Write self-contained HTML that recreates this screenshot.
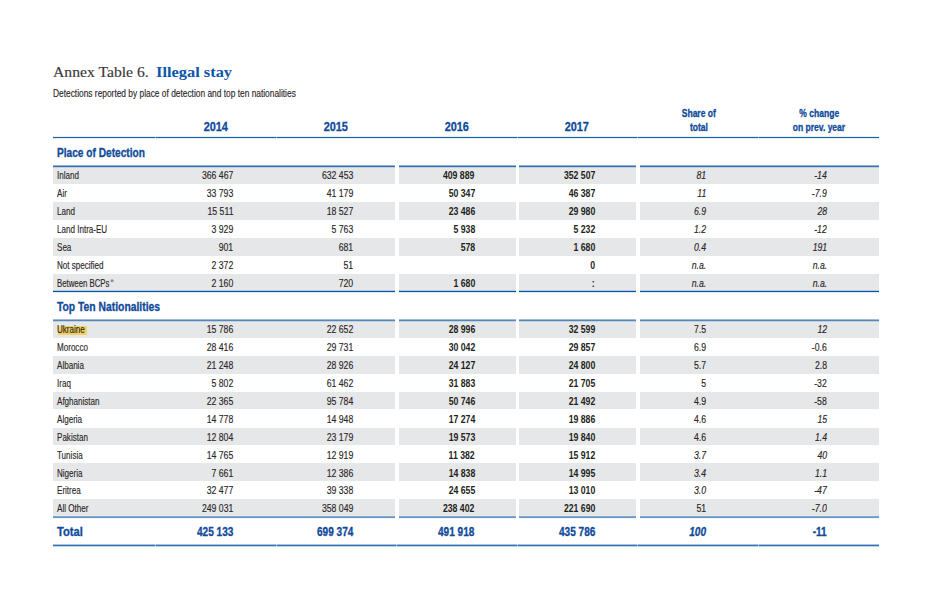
<!DOCTYPE html>
<html><head><meta charset="utf-8"><style>
html,body{margin:0;padding:0;background:#fff;width:925px;height:589px;overflow:hidden;position:relative}
.t{position:absolute;white-space:nowrap;z-index:3}
.t>span{display:inline-block;-webkit-text-stroke:0.15px currentColor}
.b>span{-webkit-text-stroke:0}
.bb>span{-webkit-text-stroke:0.3px currentColor}
.r{position:absolute}
sup{font-size:6px;vertical-align:top;position:relative;top:-1px}
.hl{background:#f2d66b}
</style></head><body>
<div class="t" style="left:52.90px;top:64.74px;font:normal normal 14.4px/14.4px 'Liberation Serif',serif;color:#3b3838"><span style="transform:scaleX(1.09);transform-origin:left">Annex Table 6.</span></div>
<div class="t b" style="left:156.20px;top:64.74px;font:normal bold 14.4px/14.4px 'Liberation Serif',serif;color:#0d55ac"><span style="transform:scaleX(1.139);transform-origin:left">Illegal stay</span></div>
<div class="t" style="left:52.50px;top:88.26px;font:normal normal 10.8px/10.8px 'Liberation Sans',sans-serif;color:#2a2627"><span style="transform:scaleX(0.775);transform-origin:left">Detections reported by place of detection and top ten nationalities</span></div>
<div class="t bb" style="left:-84.50px;width:600px;text-align:center;top:119.64px;font:normal bold 13.3px/13.3px 'Liberation Sans',sans-serif;color:#0f4a9a"><span style="transform:scaleX(0.82);transform-origin:center">2014</span></div>
<div class="t bb" style="left:36.00px;width:600px;text-align:center;top:119.64px;font:normal bold 13.3px/13.3px 'Liberation Sans',sans-serif;color:#0f4a9a"><span style="transform:scaleX(0.82);transform-origin:center">2015</span></div>
<div class="t bb" style="left:156.50px;width:600px;text-align:center;top:119.64px;font:normal bold 13.3px/13.3px 'Liberation Sans',sans-serif;color:#0f4a9a"><span style="transform:scaleX(0.82);transform-origin:center">2016</span></div>
<div class="t bb" style="left:277.00px;width:600px;text-align:center;top:119.64px;font:normal bold 13.3px/13.3px 'Liberation Sans',sans-serif;color:#0f4a9a"><span style="transform:scaleX(0.82);transform-origin:center">2017</span></div>
<div class="t bb" style="left:399.20px;width:600px;text-align:center;top:108.60px;font:normal bold 10.4px/10.4px 'Liberation Sans',sans-serif;color:#0f4a9a"><span style="transform:scaleX(0.82);transform-origin:center">Share of</span></div>
<div class="t bb" style="left:398.90px;width:600px;text-align:center;top:122.60px;font:normal bold 10.4px/10.4px 'Liberation Sans',sans-serif;color:#0f4a9a"><span style="transform:scaleX(0.82);transform-origin:center">total</span></div>
<div class="t bb" style="left:519.00px;width:600px;text-align:center;top:108.60px;font:normal bold 10.4px/10.4px 'Liberation Sans',sans-serif;color:#0f4a9a"><span style="transform:scaleX(0.82);transform-origin:center">% change</span></div>
<div class="t bb" style="left:519.00px;width:600px;text-align:center;top:122.60px;font:normal bold 10.4px/10.4px 'Liberation Sans',sans-serif;color:#0f4a9a"><span style="transform:scaleX(0.82);transform-origin:center">on prev. year</span></div>
<div class="r" style="z-index:2;left:52.50px;top:136px;width:826.50px;height:1px;background:rgba(10,86,163,0.1)"></div>
<div class="r" style="z-index:2;left:52.50px;top:137px;width:826.50px;height:1px;background:rgba(10,86,163,0.92)"></div>
<div class="r" style="z-index:2;left:52.50px;top:138px;width:826.50px;height:1px;background:rgba(10,86,163,0.12)"></div>
<div class="r" style="z-index:2;left:155px;top:136px;width:1px;height:3px;background:rgba(255,255,255,0.45)"></div>
<div class="r" style="z-index:2;left:276px;top:136px;width:1px;height:3px;background:rgba(255,255,255,0.45)"></div>
<div class="r" style="z-index:2;left:517px;top:136px;width:1px;height:3px;background:rgba(255,255,255,0.45)"></div>
<div class="r" style="z-index:2;left:637px;top:136px;width:1px;height:3px;background:rgba(255,255,255,0.45)"></div>
<div class="r" style="z-index:2;left:758px;top:136px;width:1px;height:3px;background:rgba(255,255,255,0.45)"></div>
<div class="t bb" style="left:57.00px;top:146.74px;font:normal bold 12px/12px 'Liberation Sans',sans-serif;color:#0f4a9a"><span style="transform:scaleX(0.845);transform-origin:left">Place of Detection</span></div>
<div class="r" style="z-index:2;left:52.50px;top:165px;width:342.50px;height:1px;background:rgba(10,86,163,0.45)"></div>
<div class="r" style="z-index:2;left:399.00px;top:165px;width:117.00px;height:1px;background:rgba(10,86,163,0.45)"></div>
<div class="r" style="z-index:2;left:519.30px;top:165px;width:116.90px;height:1px;background:rgba(10,86,163,0.45)"></div>
<div class="r" style="z-index:2;left:639.80px;top:165px;width:239.20px;height:1px;background:rgba(10,86,163,0.45)"></div>
<div class="r" style="z-index:2;left:52.50px;top:166px;width:342.50px;height:1px;background:rgba(10,86,163,0.82)"></div>
<div class="r" style="z-index:2;left:399.00px;top:166px;width:117.00px;height:1px;background:rgba(10,86,163,0.82)"></div>
<div class="r" style="z-index:2;left:519.30px;top:166px;width:116.90px;height:1px;background:rgba(10,86,163,0.82)"></div>
<div class="r" style="z-index:2;left:639.80px;top:166px;width:239.20px;height:1px;background:rgba(10,86,163,0.82)"></div>
<div class="r" style="z-index:2;left:52.50px;top:167px;width:342.50px;height:1px;background:rgba(10,86,163,0.15)"></div>
<div class="r" style="z-index:2;left:399.00px;top:167px;width:117.00px;height:1px;background:rgba(10,86,163,0.15)"></div>
<div class="r" style="z-index:2;left:519.30px;top:167px;width:116.90px;height:1px;background:rgba(10,86,163,0.15)"></div>
<div class="r" style="z-index:2;left:639.80px;top:167px;width:239.20px;height:1px;background:rgba(10,86,163,0.15)"></div>
<div class="r" style="left:52.50px;top:166.00px;width:342.50px;height:18.00px;background:#e6e7e8"></div>
<div class="r" style="left:399.00px;top:166.00px;width:117.00px;height:18.00px;background:#e6e7e8"></div>
<div class="r" style="left:519.30px;top:166.00px;width:116.90px;height:18.00px;background:#e6e7e8"></div>
<div class="r" style="left:639.80px;top:166.00px;width:239.20px;height:18.00px;background:#e6e7e8"></div>
<div class="t" style="left:56.80px;top:169.77px;font:normal normal 10.9px/10.9px 'Liberation Sans',sans-serif;color:#2a2627"><span style="transform:scaleX(0.74);transform-origin:left">Inland</span></div>
<div class="t" style="right:691.80px;top:169.77px;font:normal normal 10.9px/10.9px 'Liberation Sans',sans-serif;color:#2a2627"><span style="transform:scaleX(0.8);transform-origin:right">366 467</span></div>
<div class="t" style="right:571.50px;top:169.77px;font:normal normal 10.9px/10.9px 'Liberation Sans',sans-serif;color:#2a2627"><span style="transform:scaleX(0.8);transform-origin:right">632 453</span></div>
<div class="t b" style="right:450.20px;top:169.77px;font:normal bold 10.9px/10.9px 'Liberation Sans',sans-serif;color:#231f20"><span style="transform:scaleX(0.8);transform-origin:right">409 889</span></div>
<div class="t b" style="right:330.00px;top:169.77px;font:normal bold 10.9px/10.9px 'Liberation Sans',sans-serif;color:#231f20"><span style="transform:scaleX(0.8);transform-origin:right">352 507</span></div>
<div class="t" style="right:219.00px;top:169.77px;font:italic normal 10.9px/10.9px 'Liberation Sans',sans-serif;color:#2a2627"><span style="transform:scaleX(0.8);transform-origin:right">81</span></div>
<div class="t" style="right:98.00px;top:169.77px;font:italic normal 10.9px/10.9px 'Liberation Sans',sans-serif;color:#2a2627"><span style="transform:scaleX(0.8);transform-origin:right">-14</span></div>
<div class="t" style="left:56.80px;top:187.77px;font:normal normal 10.9px/10.9px 'Liberation Sans',sans-serif;color:#2a2627"><span style="transform:scaleX(0.74);transform-origin:left">Air</span></div>
<div class="t" style="right:691.80px;top:187.77px;font:normal normal 10.9px/10.9px 'Liberation Sans',sans-serif;color:#2a2627"><span style="transform:scaleX(0.8);transform-origin:right">33 793</span></div>
<div class="t" style="right:571.50px;top:187.77px;font:normal normal 10.9px/10.9px 'Liberation Sans',sans-serif;color:#2a2627"><span style="transform:scaleX(0.8);transform-origin:right">41 179</span></div>
<div class="t b" style="right:450.20px;top:187.77px;font:normal bold 10.9px/10.9px 'Liberation Sans',sans-serif;color:#231f20"><span style="transform:scaleX(0.8);transform-origin:right">50 347</span></div>
<div class="t b" style="right:330.00px;top:187.77px;font:normal bold 10.9px/10.9px 'Liberation Sans',sans-serif;color:#231f20"><span style="transform:scaleX(0.8);transform-origin:right">46 387</span></div>
<div class="t" style="right:219.00px;top:187.77px;font:italic normal 10.9px/10.9px 'Liberation Sans',sans-serif;color:#2a2627"><span style="transform:scaleX(0.8);transform-origin:right">11</span></div>
<div class="t" style="right:98.00px;top:187.77px;font:italic normal 10.9px/10.9px 'Liberation Sans',sans-serif;color:#2a2627"><span style="transform:scaleX(0.8);transform-origin:right">-7.9</span></div>
<div class="r" style="left:52.50px;top:202.00px;width:342.50px;height:18.00px;background:#e6e7e8"></div>
<div class="r" style="left:399.00px;top:202.00px;width:117.00px;height:18.00px;background:#e6e7e8"></div>
<div class="r" style="left:519.30px;top:202.00px;width:116.90px;height:18.00px;background:#e6e7e8"></div>
<div class="r" style="left:639.80px;top:202.00px;width:239.20px;height:18.00px;background:#e6e7e8"></div>
<div class="t" style="left:56.80px;top:205.77px;font:normal normal 10.9px/10.9px 'Liberation Sans',sans-serif;color:#2a2627"><span style="transform:scaleX(0.74);transform-origin:left">Land</span></div>
<div class="t" style="right:691.80px;top:205.77px;font:normal normal 10.9px/10.9px 'Liberation Sans',sans-serif;color:#2a2627"><span style="transform:scaleX(0.8);transform-origin:right">15 511</span></div>
<div class="t" style="right:571.50px;top:205.77px;font:normal normal 10.9px/10.9px 'Liberation Sans',sans-serif;color:#2a2627"><span style="transform:scaleX(0.8);transform-origin:right">18 527</span></div>
<div class="t b" style="right:450.20px;top:205.77px;font:normal bold 10.9px/10.9px 'Liberation Sans',sans-serif;color:#231f20"><span style="transform:scaleX(0.8);transform-origin:right">23 486</span></div>
<div class="t b" style="right:330.00px;top:205.77px;font:normal bold 10.9px/10.9px 'Liberation Sans',sans-serif;color:#231f20"><span style="transform:scaleX(0.8);transform-origin:right">29 980</span></div>
<div class="t" style="right:219.00px;top:205.77px;font:italic normal 10.9px/10.9px 'Liberation Sans',sans-serif;color:#2a2627"><span style="transform:scaleX(0.8);transform-origin:right">6.9</span></div>
<div class="t" style="right:98.00px;top:205.77px;font:italic normal 10.9px/10.9px 'Liberation Sans',sans-serif;color:#2a2627"><span style="transform:scaleX(0.8);transform-origin:right">28</span></div>
<div class="t" style="left:56.80px;top:223.77px;font:normal normal 10.9px/10.9px 'Liberation Sans',sans-serif;color:#2a2627"><span style="transform:scaleX(0.74);transform-origin:left">Land Intra-EU</span></div>
<div class="t" style="right:691.80px;top:223.77px;font:normal normal 10.9px/10.9px 'Liberation Sans',sans-serif;color:#2a2627"><span style="transform:scaleX(0.8);transform-origin:right">3 929</span></div>
<div class="t" style="right:571.50px;top:223.77px;font:normal normal 10.9px/10.9px 'Liberation Sans',sans-serif;color:#2a2627"><span style="transform:scaleX(0.8);transform-origin:right">5 763</span></div>
<div class="t b" style="right:450.20px;top:223.77px;font:normal bold 10.9px/10.9px 'Liberation Sans',sans-serif;color:#231f20"><span style="transform:scaleX(0.8);transform-origin:right">5 938</span></div>
<div class="t b" style="right:330.00px;top:223.77px;font:normal bold 10.9px/10.9px 'Liberation Sans',sans-serif;color:#231f20"><span style="transform:scaleX(0.8);transform-origin:right">5 232</span></div>
<div class="t" style="right:219.00px;top:223.77px;font:italic normal 10.9px/10.9px 'Liberation Sans',sans-serif;color:#2a2627"><span style="transform:scaleX(0.8);transform-origin:right">1.2</span></div>
<div class="t" style="right:98.00px;top:223.77px;font:italic normal 10.9px/10.9px 'Liberation Sans',sans-serif;color:#2a2627"><span style="transform:scaleX(0.8);transform-origin:right">-12</span></div>
<div class="r" style="left:52.50px;top:238.00px;width:342.50px;height:18.00px;background:#e6e7e8"></div>
<div class="r" style="left:399.00px;top:238.00px;width:117.00px;height:18.00px;background:#e6e7e8"></div>
<div class="r" style="left:519.30px;top:238.00px;width:116.90px;height:18.00px;background:#e6e7e8"></div>
<div class="r" style="left:639.80px;top:238.00px;width:239.20px;height:18.00px;background:#e6e7e8"></div>
<div class="t" style="left:56.80px;top:241.77px;font:normal normal 10.9px/10.9px 'Liberation Sans',sans-serif;color:#2a2627"><span style="transform:scaleX(0.74);transform-origin:left">Sea</span></div>
<div class="t" style="right:691.80px;top:241.77px;font:normal normal 10.9px/10.9px 'Liberation Sans',sans-serif;color:#2a2627"><span style="transform:scaleX(0.8);transform-origin:right">901</span></div>
<div class="t" style="right:571.50px;top:241.77px;font:normal normal 10.9px/10.9px 'Liberation Sans',sans-serif;color:#2a2627"><span style="transform:scaleX(0.8);transform-origin:right">681</span></div>
<div class="t b" style="right:450.20px;top:241.77px;font:normal bold 10.9px/10.9px 'Liberation Sans',sans-serif;color:#231f20"><span style="transform:scaleX(0.8);transform-origin:right">578</span></div>
<div class="t b" style="right:330.00px;top:241.77px;font:normal bold 10.9px/10.9px 'Liberation Sans',sans-serif;color:#231f20"><span style="transform:scaleX(0.8);transform-origin:right">1 680</span></div>
<div class="t" style="right:219.00px;top:241.77px;font:italic normal 10.9px/10.9px 'Liberation Sans',sans-serif;color:#2a2627"><span style="transform:scaleX(0.8);transform-origin:right">0.4</span></div>
<div class="t" style="right:98.00px;top:241.77px;font:italic normal 10.9px/10.9px 'Liberation Sans',sans-serif;color:#2a2627"><span style="transform:scaleX(0.8);transform-origin:right">191</span></div>
<div class="t" style="left:56.80px;top:259.77px;font:normal normal 10.9px/10.9px 'Liberation Sans',sans-serif;color:#2a2627"><span style="transform:scaleX(0.74);transform-origin:left">Not specified</span></div>
<div class="t" style="right:691.80px;top:259.77px;font:normal normal 10.9px/10.9px 'Liberation Sans',sans-serif;color:#2a2627"><span style="transform:scaleX(0.8);transform-origin:right">2 372</span></div>
<div class="t" style="right:571.50px;top:259.77px;font:normal normal 10.9px/10.9px 'Liberation Sans',sans-serif;color:#2a2627"><span style="transform:scaleX(0.8);transform-origin:right">51</span></div>
<div class="t b" style="right:450.20px;top:259.77px;font:normal bold 10.9px/10.9px 'Liberation Sans',sans-serif;color:#231f20"><span style="transform:scaleX(0.8);transform-origin:right"></span></div>
<div class="t b" style="right:330.00px;top:259.77px;font:normal bold 10.9px/10.9px 'Liberation Sans',sans-serif;color:#231f20"><span style="transform:scaleX(0.8);transform-origin:right">0</span></div>
<div class="t" style="right:219.00px;top:259.77px;font:italic normal 10.9px/10.9px 'Liberation Sans',sans-serif;color:#2a2627"><span style="transform:scaleX(0.8);transform-origin:right">n.a.</span></div>
<div class="t" style="right:98.00px;top:259.77px;font:italic normal 10.9px/10.9px 'Liberation Sans',sans-serif;color:#2a2627"><span style="transform:scaleX(0.8);transform-origin:right">n.a.</span></div>
<div class="r" style="left:52.50px;top:274.00px;width:342.50px;height:18.00px;background:#e6e7e8"></div>
<div class="r" style="left:399.00px;top:274.00px;width:117.00px;height:18.00px;background:#e6e7e8"></div>
<div class="r" style="left:519.30px;top:274.00px;width:116.90px;height:18.00px;background:#e6e7e8"></div>
<div class="r" style="left:639.80px;top:274.00px;width:239.20px;height:18.00px;background:#e6e7e8"></div>
<div class="t" style="left:56.80px;top:277.77px;font:normal normal 10.9px/10.9px 'Liberation Sans',sans-serif;color:#2a2627"><span style="transform:scaleX(0.715);transform-origin:left">Between BCPs</span></div>
<div class="t" style="left:110.30px;top:277.78px;font:normal normal 9px/9px 'Liberation Sans',sans-serif;color:#6a7a98"><span style="transform:scaleX(1.0);transform-origin:left">*</span></div>
<div class="t" style="right:691.80px;top:277.77px;font:normal normal 10.9px/10.9px 'Liberation Sans',sans-serif;color:#2a2627"><span style="transform:scaleX(0.8);transform-origin:right">2 160</span></div>
<div class="t" style="right:571.50px;top:277.77px;font:normal normal 10.9px/10.9px 'Liberation Sans',sans-serif;color:#2a2627"><span style="transform:scaleX(0.8);transform-origin:right">720</span></div>
<div class="t b" style="right:450.20px;top:277.77px;font:normal bold 10.9px/10.9px 'Liberation Sans',sans-serif;color:#231f20"><span style="transform:scaleX(0.8);transform-origin:right">1 680</span></div>
<div class="t b" style="right:330.00px;top:277.77px;font:normal bold 10.9px/10.9px 'Liberation Sans',sans-serif;color:#231f20"><span style="transform:scaleX(0.8);transform-origin:right">:</span></div>
<div class="t" style="right:219.00px;top:277.77px;font:italic normal 10.9px/10.9px 'Liberation Sans',sans-serif;color:#2a2627"><span style="transform:scaleX(0.8);transform-origin:right">n.a.</span></div>
<div class="t" style="right:98.00px;top:277.77px;font:italic normal 10.9px/10.9px 'Liberation Sans',sans-serif;color:#2a2627"><span style="transform:scaleX(0.8);transform-origin:right">n.a.</span></div>
<div class="r" style="z-index:2;left:52.50px;top:290px;width:342.50px;height:1px;background:rgba(10,86,163,0.2)"></div>
<div class="r" style="z-index:2;left:399.00px;top:290px;width:117.00px;height:1px;background:rgba(10,86,163,0.2)"></div>
<div class="r" style="z-index:2;left:519.30px;top:290px;width:116.90px;height:1px;background:rgba(10,86,163,0.2)"></div>
<div class="r" style="z-index:2;left:639.80px;top:290px;width:239.20px;height:1px;background:rgba(10,86,163,0.2)"></div>
<div class="r" style="z-index:2;left:52.50px;top:291px;width:342.50px;height:1px;background:rgba(10,86,163,1.0)"></div>
<div class="r" style="z-index:2;left:399.00px;top:291px;width:117.00px;height:1px;background:rgba(10,86,163,1.0)"></div>
<div class="r" style="z-index:2;left:519.30px;top:291px;width:116.90px;height:1px;background:rgba(10,86,163,1.0)"></div>
<div class="r" style="z-index:2;left:639.80px;top:291px;width:239.20px;height:1px;background:rgba(10,86,163,1.0)"></div>
<div class="r" style="z-index:2;left:52.50px;top:292px;width:342.50px;height:1px;background:rgba(10,86,163,0.15)"></div>
<div class="r" style="z-index:2;left:399.00px;top:292px;width:117.00px;height:1px;background:rgba(10,86,163,0.15)"></div>
<div class="r" style="z-index:2;left:519.30px;top:292px;width:116.90px;height:1px;background:rgba(10,86,163,0.15)"></div>
<div class="r" style="z-index:2;left:639.80px;top:292px;width:239.20px;height:1px;background:rgba(10,86,163,0.15)"></div>
<div class="t bb" style="left:57.00px;top:300.64px;font:normal bold 12px/12px 'Liberation Sans',sans-serif;color:#0f4a9a"><span style="transform:scaleX(0.862);transform-origin:left">Top Ten Nationalities</span></div>
<div class="r" style="z-index:2;left:52.50px;top:319px;width:342.50px;height:1px;background:rgba(10,86,163,0.4)"></div>
<div class="r" style="z-index:2;left:399.00px;top:319px;width:117.00px;height:1px;background:rgba(10,86,163,0.4)"></div>
<div class="r" style="z-index:2;left:519.30px;top:319px;width:116.90px;height:1px;background:rgba(10,86,163,0.4)"></div>
<div class="r" style="z-index:2;left:639.80px;top:319px;width:239.20px;height:1px;background:rgba(10,86,163,0.4)"></div>
<div class="r" style="z-index:2;left:52.50px;top:320px;width:342.50px;height:1px;background:rgba(10,86,163,0.7)"></div>
<div class="r" style="z-index:2;left:399.00px;top:320px;width:117.00px;height:1px;background:rgba(10,86,163,0.7)"></div>
<div class="r" style="z-index:2;left:519.30px;top:320px;width:116.90px;height:1px;background:rgba(10,86,163,0.7)"></div>
<div class="r" style="z-index:2;left:639.80px;top:320px;width:239.20px;height:1px;background:rgba(10,86,163,0.7)"></div>
<div class="r" style="z-index:2;left:52.50px;top:321px;width:342.50px;height:1px;background:rgba(10,86,163,0.15)"></div>
<div class="r" style="z-index:2;left:399.00px;top:321px;width:117.00px;height:1px;background:rgba(10,86,163,0.15)"></div>
<div class="r" style="z-index:2;left:519.30px;top:321px;width:116.90px;height:1px;background:rgba(10,86,163,0.15)"></div>
<div class="r" style="z-index:2;left:639.80px;top:321px;width:239.20px;height:1px;background:rgba(10,86,163,0.15)"></div>
<div class="r" style="z-index:1;left:58px;top:326px;width:29px;height:9px;background:#f0d163"></div>
<div class="r" style="left:52.50px;top:320.80px;width:342.50px;height:17.30px;background:#e6e7e8"></div>
<div class="r" style="left:399.00px;top:320.80px;width:117.00px;height:17.30px;background:#e6e7e8"></div>
<div class="r" style="left:519.30px;top:320.80px;width:116.90px;height:17.30px;background:#e6e7e8"></div>
<div class="r" style="left:639.80px;top:320.80px;width:239.20px;height:17.30px;background:#e6e7e8"></div>
<div class="t" style="left:56.80px;top:323.77px;font:normal normal 10.9px/10.9px 'Liberation Sans',sans-serif;color:#2a2627"><span style="transform:scaleX(0.74);transform-origin:left">Ukraine</span></div>
<div class="t" style="right:691.80px;top:323.77px;font:normal normal 10.9px/10.9px 'Liberation Sans',sans-serif;color:#2a2627"><span style="transform:scaleX(0.8);transform-origin:right">15 786</span></div>
<div class="t" style="right:571.50px;top:323.77px;font:normal normal 10.9px/10.9px 'Liberation Sans',sans-serif;color:#2a2627"><span style="transform:scaleX(0.8);transform-origin:right">22 652</span></div>
<div class="t b" style="right:450.20px;top:323.77px;font:normal bold 10.9px/10.9px 'Liberation Sans',sans-serif;color:#231f20"><span style="transform:scaleX(0.8);transform-origin:right">28 996</span></div>
<div class="t b" style="right:330.00px;top:323.77px;font:normal bold 10.9px/10.9px 'Liberation Sans',sans-serif;color:#231f20"><span style="transform:scaleX(0.8);transform-origin:right">32 599</span></div>
<div class="t" style="right:219.00px;top:323.77px;font:normal normal 10.9px/10.9px 'Liberation Sans',sans-serif;color:#2a2627"><span style="transform:scaleX(0.8);transform-origin:right">7.5</span></div>
<div class="t" style="right:98.00px;top:323.77px;font:italic normal 10.9px/10.9px 'Liberation Sans',sans-serif;color:#2a2627"><span style="transform:scaleX(0.8);transform-origin:right">12</span></div>
<div class="t" style="left:56.80px;top:341.77px;font:normal normal 10.9px/10.9px 'Liberation Sans',sans-serif;color:#2a2627"><span style="transform:scaleX(0.74);transform-origin:left">Morocco</span></div>
<div class="t" style="right:691.80px;top:341.77px;font:normal normal 10.9px/10.9px 'Liberation Sans',sans-serif;color:#2a2627"><span style="transform:scaleX(0.8);transform-origin:right">28 416</span></div>
<div class="t" style="right:571.50px;top:341.77px;font:normal normal 10.9px/10.9px 'Liberation Sans',sans-serif;color:#2a2627"><span style="transform:scaleX(0.8);transform-origin:right">29 731</span></div>
<div class="t b" style="right:450.20px;top:341.77px;font:normal bold 10.9px/10.9px 'Liberation Sans',sans-serif;color:#231f20"><span style="transform:scaleX(0.8);transform-origin:right">30 042</span></div>
<div class="t b" style="right:330.00px;top:341.77px;font:normal bold 10.9px/10.9px 'Liberation Sans',sans-serif;color:#231f20"><span style="transform:scaleX(0.8);transform-origin:right">29 857</span></div>
<div class="t" style="right:219.00px;top:341.77px;font:normal normal 10.9px/10.9px 'Liberation Sans',sans-serif;color:#2a2627"><span style="transform:scaleX(0.8);transform-origin:right">6.9</span></div>
<div class="t" style="right:98.00px;top:341.77px;font:normal normal 10.9px/10.9px 'Liberation Sans',sans-serif;color:#2a2627"><span style="transform:scaleX(0.8);transform-origin:right">-0.6</span></div>
<div class="r" style="left:52.50px;top:356.44px;width:342.50px;height:17.30px;background:#e6e7e8"></div>
<div class="r" style="left:399.00px;top:356.44px;width:117.00px;height:17.30px;background:#e6e7e8"></div>
<div class="r" style="left:519.30px;top:356.44px;width:116.90px;height:17.30px;background:#e6e7e8"></div>
<div class="r" style="left:639.80px;top:356.44px;width:239.20px;height:17.30px;background:#e6e7e8"></div>
<div class="t" style="left:56.80px;top:359.77px;font:normal normal 10.9px/10.9px 'Liberation Sans',sans-serif;color:#2a2627"><span style="transform:scaleX(0.74);transform-origin:left">Albania</span></div>
<div class="t" style="right:691.80px;top:359.77px;font:normal normal 10.9px/10.9px 'Liberation Sans',sans-serif;color:#2a2627"><span style="transform:scaleX(0.8);transform-origin:right">21 248</span></div>
<div class="t" style="right:571.50px;top:359.77px;font:normal normal 10.9px/10.9px 'Liberation Sans',sans-serif;color:#2a2627"><span style="transform:scaleX(0.8);transform-origin:right">28 926</span></div>
<div class="t b" style="right:450.20px;top:359.77px;font:normal bold 10.9px/10.9px 'Liberation Sans',sans-serif;color:#231f20"><span style="transform:scaleX(0.8);transform-origin:right">24 127</span></div>
<div class="t b" style="right:330.00px;top:359.77px;font:normal bold 10.9px/10.9px 'Liberation Sans',sans-serif;color:#231f20"><span style="transform:scaleX(0.8);transform-origin:right">24 800</span></div>
<div class="t" style="right:219.00px;top:359.77px;font:normal normal 10.9px/10.9px 'Liberation Sans',sans-serif;color:#2a2627"><span style="transform:scaleX(0.8);transform-origin:right">5.7</span></div>
<div class="t" style="right:98.00px;top:359.77px;font:normal normal 10.9px/10.9px 'Liberation Sans',sans-serif;color:#2a2627"><span style="transform:scaleX(0.8);transform-origin:right">2.8</span></div>
<div class="t" style="left:56.80px;top:377.77px;font:normal normal 10.9px/10.9px 'Liberation Sans',sans-serif;color:#2a2627"><span style="transform:scaleX(0.74);transform-origin:left">Iraq</span></div>
<div class="t" style="right:691.80px;top:377.77px;font:normal normal 10.9px/10.9px 'Liberation Sans',sans-serif;color:#2a2627"><span style="transform:scaleX(0.8);transform-origin:right">5 802</span></div>
<div class="t" style="right:571.50px;top:377.77px;font:normal normal 10.9px/10.9px 'Liberation Sans',sans-serif;color:#2a2627"><span style="transform:scaleX(0.8);transform-origin:right">61 462</span></div>
<div class="t b" style="right:450.20px;top:377.77px;font:normal bold 10.9px/10.9px 'Liberation Sans',sans-serif;color:#231f20"><span style="transform:scaleX(0.8);transform-origin:right">31 883</span></div>
<div class="t b" style="right:330.00px;top:377.77px;font:normal bold 10.9px/10.9px 'Liberation Sans',sans-serif;color:#231f20"><span style="transform:scaleX(0.8);transform-origin:right">21 705</span></div>
<div class="t" style="right:219.00px;top:377.77px;font:normal normal 10.9px/10.9px 'Liberation Sans',sans-serif;color:#2a2627"><span style="transform:scaleX(0.8);transform-origin:right">5</span></div>
<div class="t" style="right:98.00px;top:377.77px;font:normal normal 10.9px/10.9px 'Liberation Sans',sans-serif;color:#2a2627"><span style="transform:scaleX(0.8);transform-origin:right">-32</span></div>
<div class="r" style="left:52.50px;top:392.08px;width:342.50px;height:17.30px;background:#e6e7e8"></div>
<div class="r" style="left:399.00px;top:392.08px;width:117.00px;height:17.30px;background:#e6e7e8"></div>
<div class="r" style="left:519.30px;top:392.08px;width:116.90px;height:17.30px;background:#e6e7e8"></div>
<div class="r" style="left:639.80px;top:392.08px;width:239.20px;height:17.30px;background:#e6e7e8"></div>
<div class="t" style="left:56.80px;top:395.77px;font:normal normal 10.9px/10.9px 'Liberation Sans',sans-serif;color:#2a2627"><span style="transform:scaleX(0.74);transform-origin:left">Afghanistan</span></div>
<div class="t" style="right:691.80px;top:395.77px;font:normal normal 10.9px/10.9px 'Liberation Sans',sans-serif;color:#2a2627"><span style="transform:scaleX(0.8);transform-origin:right">22 365</span></div>
<div class="t" style="right:571.50px;top:395.77px;font:normal normal 10.9px/10.9px 'Liberation Sans',sans-serif;color:#2a2627"><span style="transform:scaleX(0.8);transform-origin:right">95 784</span></div>
<div class="t b" style="right:450.20px;top:395.77px;font:normal bold 10.9px/10.9px 'Liberation Sans',sans-serif;color:#231f20"><span style="transform:scaleX(0.8);transform-origin:right">50 746</span></div>
<div class="t b" style="right:330.00px;top:395.77px;font:normal bold 10.9px/10.9px 'Liberation Sans',sans-serif;color:#231f20"><span style="transform:scaleX(0.8);transform-origin:right">21 492</span></div>
<div class="t" style="right:219.00px;top:395.77px;font:normal normal 10.9px/10.9px 'Liberation Sans',sans-serif;color:#2a2627"><span style="transform:scaleX(0.8);transform-origin:right">4.9</span></div>
<div class="t" style="right:98.00px;top:395.77px;font:normal normal 10.9px/10.9px 'Liberation Sans',sans-serif;color:#2a2627"><span style="transform:scaleX(0.8);transform-origin:right">-58</span></div>
<div class="t" style="left:56.80px;top:413.77px;font:normal normal 10.9px/10.9px 'Liberation Sans',sans-serif;color:#2a2627"><span style="transform:scaleX(0.74);transform-origin:left">Algeria</span></div>
<div class="t" style="right:691.80px;top:413.77px;font:normal normal 10.9px/10.9px 'Liberation Sans',sans-serif;color:#2a2627"><span style="transform:scaleX(0.8);transform-origin:right">14 778</span></div>
<div class="t" style="right:571.50px;top:413.77px;font:normal normal 10.9px/10.9px 'Liberation Sans',sans-serif;color:#2a2627"><span style="transform:scaleX(0.8);transform-origin:right">14 948</span></div>
<div class="t b" style="right:450.20px;top:413.77px;font:normal bold 10.9px/10.9px 'Liberation Sans',sans-serif;color:#231f20"><span style="transform:scaleX(0.8);transform-origin:right">17 274</span></div>
<div class="t b" style="right:330.00px;top:413.77px;font:normal bold 10.9px/10.9px 'Liberation Sans',sans-serif;color:#231f20"><span style="transform:scaleX(0.8);transform-origin:right">19 886</span></div>
<div class="t" style="right:219.00px;top:413.77px;font:normal normal 10.9px/10.9px 'Liberation Sans',sans-serif;color:#2a2627"><span style="transform:scaleX(0.8);transform-origin:right">4.6</span></div>
<div class="t" style="right:98.00px;top:413.77px;font:italic normal 10.9px/10.9px 'Liberation Sans',sans-serif;color:#2a2627"><span style="transform:scaleX(0.8);transform-origin:right">15</span></div>
<div class="r" style="left:52.50px;top:427.72px;width:342.50px;height:17.30px;background:#e6e7e8"></div>
<div class="r" style="left:399.00px;top:427.72px;width:117.00px;height:17.30px;background:#e6e7e8"></div>
<div class="r" style="left:519.30px;top:427.72px;width:116.90px;height:17.30px;background:#e6e7e8"></div>
<div class="r" style="left:639.80px;top:427.72px;width:239.20px;height:17.30px;background:#e6e7e8"></div>
<div class="t" style="left:56.80px;top:431.77px;font:normal normal 10.9px/10.9px 'Liberation Sans',sans-serif;color:#2a2627"><span style="transform:scaleX(0.74);transform-origin:left">Pakistan</span></div>
<div class="t" style="right:691.80px;top:431.77px;font:normal normal 10.9px/10.9px 'Liberation Sans',sans-serif;color:#2a2627"><span style="transform:scaleX(0.8);transform-origin:right">12 804</span></div>
<div class="t" style="right:571.50px;top:431.77px;font:normal normal 10.9px/10.9px 'Liberation Sans',sans-serif;color:#2a2627"><span style="transform:scaleX(0.8);transform-origin:right">23 179</span></div>
<div class="t b" style="right:450.20px;top:431.77px;font:normal bold 10.9px/10.9px 'Liberation Sans',sans-serif;color:#231f20"><span style="transform:scaleX(0.8);transform-origin:right">19 573</span></div>
<div class="t b" style="right:330.00px;top:431.77px;font:normal bold 10.9px/10.9px 'Liberation Sans',sans-serif;color:#231f20"><span style="transform:scaleX(0.8);transform-origin:right">19 840</span></div>
<div class="t" style="right:219.00px;top:431.77px;font:normal normal 10.9px/10.9px 'Liberation Sans',sans-serif;color:#2a2627"><span style="transform:scaleX(0.8);transform-origin:right">4.6</span></div>
<div class="t" style="right:98.00px;top:431.77px;font:italic normal 10.9px/10.9px 'Liberation Sans',sans-serif;color:#2a2627"><span style="transform:scaleX(0.8);transform-origin:right">1.4</span></div>
<div class="t" style="left:56.80px;top:449.77px;font:normal normal 10.9px/10.9px 'Liberation Sans',sans-serif;color:#2a2627"><span style="transform:scaleX(0.74);transform-origin:left">Tunisia</span></div>
<div class="t" style="right:691.80px;top:449.77px;font:normal normal 10.9px/10.9px 'Liberation Sans',sans-serif;color:#2a2627"><span style="transform:scaleX(0.8);transform-origin:right">14 765</span></div>
<div class="t" style="right:571.50px;top:449.77px;font:normal normal 10.9px/10.9px 'Liberation Sans',sans-serif;color:#2a2627"><span style="transform:scaleX(0.8);transform-origin:right">12 919</span></div>
<div class="t b" style="right:450.20px;top:449.77px;font:normal bold 10.9px/10.9px 'Liberation Sans',sans-serif;color:#231f20"><span style="transform:scaleX(0.8);transform-origin:right">11 382</span></div>
<div class="t b" style="right:330.00px;top:449.77px;font:normal bold 10.9px/10.9px 'Liberation Sans',sans-serif;color:#231f20"><span style="transform:scaleX(0.8);transform-origin:right">15 912</span></div>
<div class="t" style="right:219.00px;top:449.77px;font:italic normal 10.9px/10.9px 'Liberation Sans',sans-serif;color:#2a2627"><span style="transform:scaleX(0.8);transform-origin:right">3.7</span></div>
<div class="t" style="right:98.00px;top:449.77px;font:italic normal 10.9px/10.9px 'Liberation Sans',sans-serif;color:#2a2627"><span style="transform:scaleX(0.8);transform-origin:right">40</span></div>
<div class="r" style="left:52.50px;top:463.36px;width:342.50px;height:17.30px;background:#e6e7e8"></div>
<div class="r" style="left:399.00px;top:463.36px;width:117.00px;height:17.30px;background:#e6e7e8"></div>
<div class="r" style="left:519.30px;top:463.36px;width:116.90px;height:17.30px;background:#e6e7e8"></div>
<div class="r" style="left:639.80px;top:463.36px;width:239.20px;height:17.30px;background:#e6e7e8"></div>
<div class="t" style="left:56.80px;top:467.77px;font:normal normal 10.9px/10.9px 'Liberation Sans',sans-serif;color:#2a2627"><span style="transform:scaleX(0.74);transform-origin:left">Nigeria</span></div>
<div class="t" style="right:691.80px;top:467.77px;font:normal normal 10.9px/10.9px 'Liberation Sans',sans-serif;color:#2a2627"><span style="transform:scaleX(0.8);transform-origin:right">7 661</span></div>
<div class="t" style="right:571.50px;top:467.77px;font:normal normal 10.9px/10.9px 'Liberation Sans',sans-serif;color:#2a2627"><span style="transform:scaleX(0.8);transform-origin:right">12 386</span></div>
<div class="t b" style="right:450.20px;top:467.77px;font:normal bold 10.9px/10.9px 'Liberation Sans',sans-serif;color:#231f20"><span style="transform:scaleX(0.8);transform-origin:right">14 838</span></div>
<div class="t b" style="right:330.00px;top:467.77px;font:normal bold 10.9px/10.9px 'Liberation Sans',sans-serif;color:#231f20"><span style="transform:scaleX(0.8);transform-origin:right">14 995</span></div>
<div class="t" style="right:219.00px;top:467.77px;font:italic normal 10.9px/10.9px 'Liberation Sans',sans-serif;color:#2a2627"><span style="transform:scaleX(0.8);transform-origin:right">3.4</span></div>
<div class="t" style="right:98.00px;top:467.77px;font:italic normal 10.9px/10.9px 'Liberation Sans',sans-serif;color:#2a2627"><span style="transform:scaleX(0.8);transform-origin:right">1.1</span></div>
<div class="t" style="left:56.80px;top:484.77px;font:normal normal 10.9px/10.9px 'Liberation Sans',sans-serif;color:#2a2627"><span style="transform:scaleX(0.74);transform-origin:left">Eritrea</span></div>
<div class="t" style="right:691.80px;top:484.77px;font:normal normal 10.9px/10.9px 'Liberation Sans',sans-serif;color:#2a2627"><span style="transform:scaleX(0.8);transform-origin:right">32 477</span></div>
<div class="t" style="right:571.50px;top:484.77px;font:normal normal 10.9px/10.9px 'Liberation Sans',sans-serif;color:#2a2627"><span style="transform:scaleX(0.8);transform-origin:right">39 338</span></div>
<div class="t b" style="right:450.20px;top:484.77px;font:normal bold 10.9px/10.9px 'Liberation Sans',sans-serif;color:#231f20"><span style="transform:scaleX(0.8);transform-origin:right">24 655</span></div>
<div class="t b" style="right:330.00px;top:484.77px;font:normal bold 10.9px/10.9px 'Liberation Sans',sans-serif;color:#231f20"><span style="transform:scaleX(0.8);transform-origin:right">13 010</span></div>
<div class="t" style="right:219.00px;top:484.77px;font:italic normal 10.9px/10.9px 'Liberation Sans',sans-serif;color:#2a2627"><span style="transform:scaleX(0.8);transform-origin:right">3.0</span></div>
<div class="t" style="right:98.00px;top:484.77px;font:italic normal 10.9px/10.9px 'Liberation Sans',sans-serif;color:#2a2627"><span style="transform:scaleX(0.8);transform-origin:right">-47</span></div>
<div class="r" style="left:52.50px;top:499.00px;width:342.50px;height:17.30px;background:#e6e7e8"></div>
<div class="r" style="left:399.00px;top:499.00px;width:117.00px;height:17.30px;background:#e6e7e8"></div>
<div class="r" style="left:519.30px;top:499.00px;width:116.90px;height:17.30px;background:#e6e7e8"></div>
<div class="r" style="left:639.80px;top:499.00px;width:239.20px;height:17.30px;background:#e6e7e8"></div>
<div class="t" style="left:56.80px;top:502.77px;font:normal normal 10.9px/10.9px 'Liberation Sans',sans-serif;color:#2a2627"><span style="transform:scaleX(0.74);transform-origin:left">All Other</span></div>
<div class="t" style="right:691.80px;top:502.77px;font:normal normal 10.9px/10.9px 'Liberation Sans',sans-serif;color:#2a2627"><span style="transform:scaleX(0.8);transform-origin:right">249 031</span></div>
<div class="t" style="right:571.50px;top:502.77px;font:normal normal 10.9px/10.9px 'Liberation Sans',sans-serif;color:#2a2627"><span style="transform:scaleX(0.8);transform-origin:right">358 049</span></div>
<div class="t b" style="right:450.20px;top:502.77px;font:normal bold 10.9px/10.9px 'Liberation Sans',sans-serif;color:#231f20"><span style="transform:scaleX(0.8);transform-origin:right">238 402</span></div>
<div class="t b" style="right:330.00px;top:502.77px;font:normal bold 10.9px/10.9px 'Liberation Sans',sans-serif;color:#231f20"><span style="transform:scaleX(0.8);transform-origin:right">221 690</span></div>
<div class="t" style="right:219.00px;top:502.77px;font:normal normal 10.9px/10.9px 'Liberation Sans',sans-serif;color:#2a2627"><span style="transform:scaleX(0.8);transform-origin:right">51</span></div>
<div class="t" style="right:98.00px;top:502.77px;font:italic normal 10.9px/10.9px 'Liberation Sans',sans-serif;color:#2a2627"><span style="transform:scaleX(0.8);transform-origin:right">-7.0</span></div>
<div class="r" style="z-index:2;left:52.50px;top:516px;width:342.50px;height:1px;background:rgba(10,86,163,0.5)"></div>
<div class="r" style="z-index:2;left:399.00px;top:516px;width:117.00px;height:1px;background:rgba(10,86,163,0.5)"></div>
<div class="r" style="z-index:2;left:519.30px;top:516px;width:116.90px;height:1px;background:rgba(10,86,163,0.5)"></div>
<div class="r" style="z-index:2;left:639.80px;top:516px;width:239.20px;height:1px;background:rgba(10,86,163,0.5)"></div>
<div class="r" style="z-index:2;left:52.50px;top:517px;width:342.50px;height:1px;background:rgba(10,86,163,0.62)"></div>
<div class="r" style="z-index:2;left:399.00px;top:517px;width:117.00px;height:1px;background:rgba(10,86,163,0.62)"></div>
<div class="r" style="z-index:2;left:519.30px;top:517px;width:116.90px;height:1px;background:rgba(10,86,163,0.62)"></div>
<div class="r" style="z-index:2;left:639.80px;top:517px;width:239.20px;height:1px;background:rgba(10,86,163,0.62)"></div>
<div class="r" style="z-index:2;left:52.50px;top:518px;width:342.50px;height:1px;background:rgba(10,86,163,0.06)"></div>
<div class="r" style="z-index:2;left:399.00px;top:518px;width:117.00px;height:1px;background:rgba(10,86,163,0.06)"></div>
<div class="r" style="z-index:2;left:519.30px;top:518px;width:116.90px;height:1px;background:rgba(10,86,163,0.06)"></div>
<div class="r" style="z-index:2;left:639.80px;top:518px;width:239.20px;height:1px;background:rgba(10,86,163,0.06)"></div>
<div class="t bb" style="left:57.00px;top:525.64px;font:normal bold 12px/12px 'Liberation Sans',sans-serif;color:#0f4a9a"><span style="transform:scaleX(0.93);transform-origin:left">Total</span></div>
<div class="t bb" style="right:691.80px;top:525.64px;font:normal bold 12px/12px 'Liberation Sans',sans-serif;color:#0f4a9a"><span style="transform:scaleX(0.84);transform-origin:right">425 133</span></div>
<div class="t bb" style="right:571.50px;top:525.64px;font:normal bold 12px/12px 'Liberation Sans',sans-serif;color:#0f4a9a"><span style="transform:scaleX(0.84);transform-origin:right">699 374</span></div>
<div class="t bb" style="right:450.20px;top:525.64px;font:normal bold 12px/12px 'Liberation Sans',sans-serif;color:#0f4a9a"><span style="transform:scaleX(0.84);transform-origin:right">491 918</span></div>
<div class="t bb" style="right:330.00px;top:525.64px;font:normal bold 12px/12px 'Liberation Sans',sans-serif;color:#0f4a9a"><span style="transform:scaleX(0.84);transform-origin:right">435 786</span></div>
<div class="t bb" style="right:219.00px;top:525.64px;font:italic bold 12px/12px 'Liberation Sans',sans-serif;color:#0f4a9a"><span style="transform:scaleX(0.84);transform-origin:right">100</span></div>
<div class="t bb" style="right:98.00px;top:525.64px;font:normal bold 12px/12px 'Liberation Sans',sans-serif;color:#0f4a9a"><span style="transform:scaleX(0.84);transform-origin:right">-11</span></div>
<div class="r" style="z-index:2;left:52.50px;top:544px;width:826.50px;height:1px;background:rgba(10,86,163,0.35)"></div>
<div class="r" style="z-index:2;left:52.50px;top:545px;width:826.50px;height:1px;background:rgba(10,86,163,0.85)"></div>
<div class="r" style="z-index:2;left:52.50px;top:546px;width:826.50px;height:1px;background:rgba(10,86,163,0.25)"></div>
<div class="r" style="z-index:2;left:155px;top:544px;width:1px;height:3px;background:rgba(255,255,255,0.45)"></div>
<div class="r" style="z-index:2;left:276px;top:544px;width:1px;height:3px;background:rgba(255,255,255,0.45)"></div>
<div class="r" style="z-index:2;left:396px;top:544px;width:1px;height:3px;background:rgba(255,255,255,0.45)"></div>
<div class="r" style="z-index:2;left:517px;top:544px;width:1px;height:3px;background:rgba(255,255,255,0.45)"></div>
<div class="r" style="z-index:2;left:637px;top:544px;width:1px;height:3px;background:rgba(255,255,255,0.45)"></div>
<div class="r" style="z-index:2;left:758px;top:544px;width:1px;height:3px;background:rgba(255,255,255,0.45)"></div>
</body></html>
